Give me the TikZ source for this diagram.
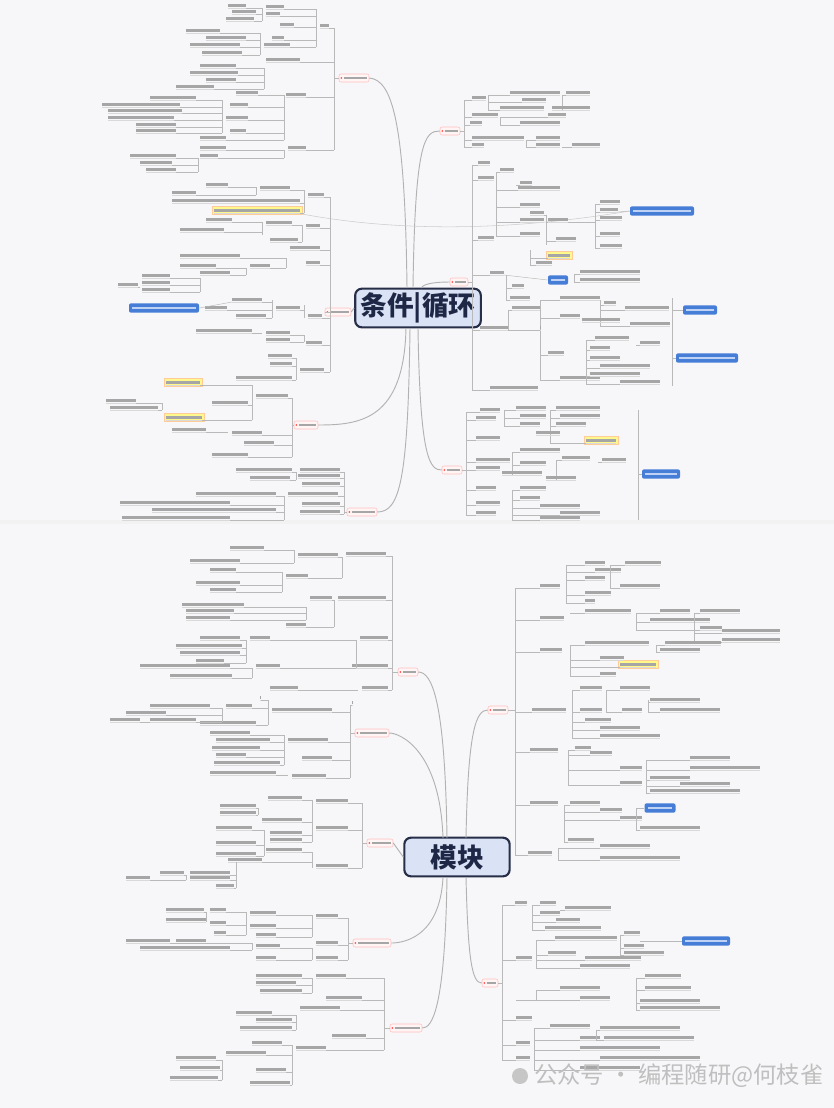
\documentclass[tikz,border=0pt]{standalone}
\usepackage{fontspec}
\newfontfamily\cjk{Noto Sans CJK SC}
\usepackage{tikz}
\definecolor{zentrumrand}{RGB}{38,46,72}
\definecolor{zentrumfill}{RGB}{218,226,245}
\definecolor{zentrumtext}{RGB}{30,40,70}
\definecolor{blauknoten}{RGB}{70,125,215}
\definecolor{blauschrift}{RGB}{190,210,245}
\definecolor{hintergrund}{RGB}{247,247,249}

\tikzset{
  ast/.style={draw=gray!55, line width=0.35pt},
  haupt/.style={draw=gray!60, line width=0.7pt},
  bezug/.style={draw=gray!40, line width=0.4pt},
  blatt/.style={fill=gray!70},
  unter/.style={draw=gray!30, line width=0.3pt},
  zentrum/.style={draw=zentrumrand, line width=1.6pt, rounded corners=5pt, fill=zentrumfill,
    text=zentrumtext, inner xsep=4pt, inner ysep=2pt, minimum height=29pt,
    font=\cjk\bfseries\fontsize{20}{24}\selectfont},
  themabox/.style={draw=red!25, fill=red!4, rounded corners=1.5pt, minimum height=6pt, inner sep=0pt},
  blaubox/.style={fill=blauknoten, rounded corners=1.5pt, minimum height=7pt, inner sep=0pt},
  gelb/.style={fill=yellow!45, draw=orange!40, line width=0.3pt},
  wasserzeichen/.style={text=gray!50, font=\cjk\fontsize{17.5}{20}\selectfont, inner sep=0pt}
}

% Zweig nach links: Stamm x, y oben, y unten, Liste x/y/breite
\newcommand{\zweigL}[4]{%
  \draw[ast] (#1,#2) -- (#1,#3);
  \foreach \lx/\ly/\lw in {#4}{%
    \draw[ast] (#1,\ly) -- (\lx+\lw,\ly);
    \fill[blatt] (\lx,\ly-1) rectangle ++(\lw,-3.4);
    \draw[unter] (\lx,\ly) -- ++(\lw,0);
  }}
% Zweig nach rechts
\newcommand{\zweigR}[4]{%
  \draw[ast] (#1,#2) -- (#1,#3);
  \foreach \lx/\ly/\lw in {#4}{%
    \draw[ast] (#1,\ly) -- (\lx,\ly);
    \fill[blatt] (\lx,\ly-1) rectangle ++(\lw,-3.4);
    \draw[unter] (\lx,\ly) -- ++(\lw,0);
  }}
\newcommand{\themaknoten}[4]{%
  \node[themabox, minimum width=#4*0.75pt] (#1) at (#2,#3) {};
  \fill[red!65] ([xshift=2pt]#1.west) circle (0.8pt);
  \fill[gray!70] ([xshift=3.6pt,yshift=-0.9pt]#1.west) rectangle ([xshift=-1.8pt,yshift=0.9pt]#1.east);}
\newcommand{\blaufeld}[4]{%
  \node[blaubox, minimum width=#4*0.75pt] (#1) at (#2,#3) {};
  \fill[blauschrift] ([xshift=2.5pt,yshift=-0.8pt]#1.west) rectangle ([xshift=-2.5pt,yshift=0.8pt]#1.east);}
\newcommand{\gelbfeld}[3]{\filldraw[gelb] (#1-2,#2+1.5) rectangle (#1+#3+2,#2-6.5);}

\begin{document}
\begin{tikzpicture}[x=0.75pt, y=-0.75pt, font=\footnotesize]
  % Hintergrund
  \useasboundingbox (0,0) rectangle (834,1108);
  \fill[hintergrund] (0,0) rectangle (834,1108);
  \fill[gray!10] (0,520) rectangle (834,524);

  % Hauptknoten
  \node[zentrum] (ta) at (418,308) {条件|循环};
  \node[zentrum, minimum width=79pt] (tb) at (457,857) {模块};

  % Themen oben
  \themaknoten{t1}{354}{78}{30}
  \themaknoten{t2}{338}{312}{26}
  \themaknoten{t3}{306}{425}{24}
  \themaknoten{t4}{362}{512}{30}
  \themaknoten{t5}{450}{131}{20}
  \themaknoten{t6}{459}{282}{18}
  \themaknoten{t7}{452}{470}{20}
  % Themen unten
  \themaknoten{b1}{408}{672}{20}
  \themaknoten{b2}{372}{733}{34}
  \themaknoten{b3}{380}{843}{26}
  \themaknoten{b4}{372}{943}{38}
  \themaknoten{b5}{406}{1028}{32}
  \themaknoten{b6}{498}{710}{20}
  \themaknoten{b7}{490}{983}{16}

  % blaue Knoten
  \blaufeld{tbl1}{662}{211}{64}
  \blaufeld{tbl2}{164}{308}{70}
  \blaufeld{tbl3}{700}{310}{34}
  \blaufeld{tbl4}{707}{358}{62}
  \blaufeld{tbl5}{558}{280}{20}
  \blaufeld{tbl6}{661}{474}{38}
  \blaufeld{bb1}{660}{808}{31}
  \blaufeld{bb2}{706}{941}{48}

  % gelbe Markierungen
  \gelbfeld{214}{213}{86}
  \gelbfeld{166}{385}{34}
  \gelbfeld{166}{420}{36}
  \gelbfeld{548}{258}{22}
  \gelbfeld{586}{443}{30}
  \gelbfeld{620}{667}{36}

  % Hauptaeste oben
  \draw[haupt] (407,288) .. controls (405,120) and (392,80) .. (t1.east);
  \draw[haupt] (ta.west) -- (t2.east);
  \draw[haupt] (406,328) .. controls (404,420) and (360,425) .. (t3.east);
  \draw[haupt] (410,328) .. controls (408,480) and (400,512) .. (t4.east);
  \draw[haupt] (413,288) .. controls (415,140) and (425,131) .. (t5.west);
  \draw[haupt] (421,288) .. controls (424,283) and (438,282) .. (t6.west);
  \draw[haupt] (418,328) .. controls (420,460) and (430,470) .. (t7.west);
  % Hauptaeste unten
  \draw[haupt] (447,838) .. controls (445,700) and (432,672) .. (b1.east);
  \draw[haupt] (443,838) .. controls (440,750) and (400,733) .. (b2.east);
  \draw[haupt] (tb.west) -- (b3.east);
  \draw[haupt] (443,877) .. controls (440,940) and (400,943) .. (b4.east);
  \draw[haupt] (447,877) .. controls (445,1010) and (432,1028) .. (b5.east);
  \draw[haupt] (466,838) .. controls (468,730) and (476,710) .. (b6.west);
  \draw[haupt] (466,877) .. controls (468,960) and (472,983) .. (b7.west);
  % Beziehung
  \draw[bezug] (302,214) .. controls (420,236) and (540,226) .. (tbl1.west);

  % T1
  \draw[ast] (t1.west) -- (334,78);
  \zweigL{334}{28}{150}{320/28/9, 266/62/34, 286/97/20, 288/150/18}
  \zweigL{316}{9}{47}{266/9/18, 266/16/14, 280/27/14, 272/40/12, 264/47/26}
  \zweigL{262}{8}{21}{228/8/18, 232/14/24, 226/21/28}
  \zweigL{260}{33}{55}{186/33/34, 206/40/40, 190/47/50, 202/55/40}
  \zweigL{264}{68}{89}{200/68/36, 190/75/48, 206/82/30, 176/89/38}
  \zweigL{284}{95}{140}{236/95/22, 230/107/18, 226/120/22, 230/133/16, 200/140/26}
  \zweigL{222}{100}{133}{150/100/46, 102/107/78, 108/113/74, 108/120/66, 136/127/40, 136/133/40}
  \zweigL{284}{150}{158}{200/150/26, 200/158/18}
  \zweigL{198}{158}{172}{130/158/46, 140/165/32, 146/172/30}

  % T2
  \draw[ast] (t2.west) -- (330,312);
  \zweigL{330}{197}{372}{308/197/16, 306/228/14, 290/250/30, 306/265/14, 308/318/14, 306/345/16, 300/372/24}
  \zweigL{304}{190}{213}{260/190/30, 172/203/128, 214/213/86}
  \zweigL{256}{187}{195}{206/187/22, 172/195/24}
  \zweigL{302}{225}{242}{266/225/26, 270/242/28}
  \zweigL{262}{222}{235}{206/222/26, 180/232/44}
  \zweigL{286}{258}{268}{180/258/60, 250/268/20}
  \zweigL{246}{268}{275}{180/268/36, 200/275/30}
  \zweigL{304}{305}{318}{276/310/24}
  \zweigL{272}{300}{318}{232/302/30, 205/310/22, 236/318/30}
  \zweigL{200}{278}{292}{142/278/28, 142/285/28, 142/292/28}
  \zweigL{140}{287}{287}{118/287/20}
  \draw[ast] (tbl2.east) -- (232,302);
  \zweigL{304}{335}{342}{266/335/24, 266/342/24}
  \zweigL{262}{333}{333}{196/333/56}
  \zweigL{296}{358}{380}{268/358/24, 270/366/22, 236/380/56}

  % T3
  \draw[ast] (t3.west) -- (292,425);
  \zweigL{292}{398}{457}{256/398/32, 232/435/30, 244/445/30, 212/457/36}
  \zweigL{252}{385}{420}{166/385/34, 212/405/36, 166/420/36}
  \zweigL{162}{403}{410}{106/403/30, 110/410/48}
  \zweigL{228}{432}{432}{172/432/34}

  % T4
  \draw[ast] (t4.west) -- (344,512);
  \zweigL{344}{472}{514}{300/472/40, 298/478/42, 302/486/38, 288/496/50, 302/506/38, 300/514/40}
  \zweigL{284}{496}{520}{196/496/80, 120/505/110, 152/512/124, 122/520/108}
  \zweigL{296}{472}{480}{236/472/56, 250/480/40}

  % T5
  \draw[ast] (t5.east) -- (464,131);
  \zweigR{464}{100}{147}{472/100/14, 472/117/26, 470/125/12, 472/140/52, 472/147/12}
  \zweigR{488}{95}{110}{510/95/50, 522/102/24, 500/110/44}
  \zweigR{562}{95}{110}{566/95/24, 552/110/38}
  \zweigR{500}{117}{125}{548/117/18, 520/125/40}
  \zweigR{526}{140}{147}{536/140/24, 536/147/24}
  \zweigR{562}{147}{147}{572/147/28}

  % T6
  \draw[ast] (t6.east) -- (472,282);
  \zweigR{472}{165}{390}{478/165/12, 478/180/16, 478/240/16, 490/275/14, 480/330/28, 490/390/48}
  \zweigR{496}{172}{236}{500/172/14, 518/190/42, 520/207/20, 520/222/24, 520/236/20}
  \zweigR{516}{185}{185}{520/185/12}
  \zweigR{546}{215}{245}{548/222/20, 556/241/20, 530/215/14}
  \zweigR{595}{204}{248}{600/204/20, 600/212/18, 600/220/22, 600/236/20, 600/248/22}
  \draw[ast] (568,222) -- (595,222);
  \draw[ast] (618,212) -- (tbl1.west);
  \zweigR{530}{250}{265}{548/258/22, 536/265/16}
  \zweigR{506}{275}{300}{512/288/12, 510/300/20}
  \draw[ast] (504,275) -- (tbl5.west);
  \zweigR{574}{274}{282}{580/274/60, 580/282/60}
  \zweigR{540}{300}{380}{560/300/40, 560/318/20, 548/355/16, 560/380/40}
  \zweigR{508}{310}{330}{512/310/28, 540/330/0.1}
  \zweigR{600}{300}{326}{604/305/12, 625/310/44, 582/322/38, 630/326/40}
  \draw[ast] (672,298) -- (672,386);
  \draw[ast] (672,310) -- (tbl3.west);
  \draw[ast] (672,358) -- (tbl4.west);
  \zweigR{586}{340}{384}{595/340/34, 590/350/20, 590/360/30, 600/368/50, 590/376/50, 620/384/40}
  \zweigR{636}{345}{345}{640/345/20}

  % T7
  \draw[ast] (t7.east) -- (466,470);
  \zweigR{466}{412}{515}{480/412/20, 476/420/20, 476/440/24, 476/462/34, 476/470/24, 476/490/20, 476/505/24, 476/515/20}
  \zweigR{504}{410}{426}{516/410/30, 520/418/26, 520/426/20}
  \zweigR{550}{410}{443}{556/410/44, 560/418/40, 556/426/30, 536/435/24, 586/443/30}
  \zweigR{512}{452}{475}{520/452/40, 520/465/26, 502/475/40}
  \zweigR{556}{460}{480}{562/460/28, 546/480/30}
  \zweigR{598}{462}{462}{602/462/24}
  \zweigR{512}{490}{520}{520/490/26, 520/500/20, 540/508/40, 560/515/40, 540/520/40}
  \draw[ast] (638,410) -- (638,520);
  \draw[ast] (638,474) -- (tbl6.west);

  % B1
  \draw[ast] (b1.west) -- (392,672);
  \zweigL{392}{556}{690}{346/556/40, 338/600/48, 360/640/28, 352/668/36, 362/690/26}
  \zweigL{342}{557}{578}{298/557/40, 286/578/22}
  \zweigL{294}{550}{563}{230/550/34, 190/563/50}
  \zweigL{282}{572}{592}{210/572/26, 196/585/44, 210/592/26}
  \zweigL{334}{600}{627}{310/600/22, 286/627/20}
  \zweigL{306}{607}{620}{182/607/62, 186/613/48, 186/620/44}
  \zweigL{356}{640}{668}{250/640/20, 256/668/24}
  \zweigL{246}{640}{663}{200/640/40, 176/648/66, 180/655/60, 196/663/28}
  \zweigL{252}{668}{678}{140/668/90, 170/678/62}
  \zweigL{358}{690}{690}{270/690/28}

  % B2
  \draw[ast] (b2.west) -- (350,733);
  \zweigL{350}{705}{778}{352/705/0.1, 272/712/60, 288/742/40, 302/760/30, 292/778/34}
  \zweigL{268}{700}{725}{260/700/0.1, 226/708/26, 200/725/56}
  \zweigL{222}{708}{722}{150/708/60, 126/715/40, 110/722/30, 150/722/46}
  \zweigL{284}{735}{765}{210/735/40, 216/742/54, 212/750/48, 216/757/30, 214/765/66}
  \zweigL{288}{775}{775}{210/775/66}

  % B3
  \draw[ast] (b3.west) -- (362,843);
  \zweigL{362}{803}{868}{316/803/32, 316/830/32, 316/868/32}
  \zweigL{312}{800}{842}{268/800/34, 262/822/40, 270/835/32, 270/842/32}
  \zweigL{258}{808}{815}{220/808/36, 220/815/36}
  \zweigL{264}{830}{856}{216/830/36, 216/845/40, 216/856/40}
  \zweigL{312}{852}{868}{266/852/36, 228/862/34}
  \zweigL{236}{875}{888}{190/875/40, 190/880/40, 216/888/18}
  \zweigL{186}{875}{880}{160/875/24, 126/880/24}
  \draw[ast] (236,862) -- (236,875);

  % B4
  \draw[ast] (b4.west) -- (348,943);
  \zweigL{348}{918}{960}{316/918/22, 316/945/22, 316/960/22}
  \zweigL{312}{915}{937}{250/915/26, 250/928/26, 256/937/20}
  \zweigL{246}{912}{935}{210/912/16, 210/925/16, 214/935/12}
  \zweigL{206}{912}{922}{166/912/38, 166/922/40}
  \zweigL{312}{948}{960}{256/948/24, 256/960/20}
  \zweigL{252}{943}{950}{176/943/30, 126/943/44, 140/950/90}

  % B5
  \draw[ast] (b5.west) -- (384,1028);
  \zweigL{384}{978}{1050}{316/978/30, 326/1000/36, 300/1010/40, 332/1038/34, 296/1050/30}
  \zweigL{312}{978}{993}{256/978/46, 256/985/40, 260/993/42}
  \zweigL{296}{1015}{1030}{236/1015/36, 256/1022/36, 240/1030/52}
  \zweigL{292}{1045}{1085}{252/1045/30, 226/1055/40, 256/1072/30, 250/1085/40}
  \zweigL{222}{1060}{1080}{176/1060/40, 180/1070/40, 170/1080/48}

  % B6
  \draw[ast] (b6.east) -- (515,710);
  \zweigR{515}{588}{855}{540/588/20, 540/620/24, 540/652/22, 532/712/34, 530/752/28, 530/805/28, 528/855/24}
  \zweigR{566}{565}{603}{585/565/20, 595/572/26, 585/580/20, 585/595/26, 585/603/10}
  \zweigR{610}{565}{588}{625/565/36, 620/588/40}
  \zweigR{570}{613}{613}{585/613/46}
  \zweigR{636}{613}{630}{660/613/30, 650/622/60, 700/630/22}
  \zweigR{694}{613}{642}{700/613/40, 722/633/58, 722/642/58}
  \zweigR{570}{645}{676}{585/645/64, 600/660/24, 620/667/36, 600/676/16}
  \zweigR{656}{645}{652}{665/645/56, 660/652/40}
  \zweigR{572}{690}{738}{580/690/22, 580/712/22, 585/722/26, 600/730/40, 600/738/60}
  \zweigR{606}{690}{712}{620/690/30, 622/712/20}
  \zweigR{648}{700}{712}{650/702/50, 660/712/60}
  \zweigR{568}{750}{785}{575/750/16, 590/755/22, 620/770/22, 620/785/22}
  \zweigR{646}{760}{793}{690/760/40, 690/770/70, 650/780/40, 680/786/50, 650/793/90}
  \zweigR{564}{805}{842}{570/805/30, 600/812/22, 620/820/22, 568/842/26}
  \zweigR{636}{808}{830}{640/830/60}
  \draw[ast] (636,808) -- (bb1.west);
  \zweigR{558}{848}{860}{600/848/50, 600/860/80}

  % B7
  \draw[ast] (b7.east) -- (502,983);
  \zweigR{502}{905}{1060}{515/905/12, 516/960/16, 516/1020/16, 516/1045/14, 516/1060/14}
  \zweigR{532}{905}{930}{540/905/16, 540/915/20, 556/922/24, 545/930/56}
  \zweigR{560}{910}{910}{565/910/46}
  \zweigR{536}{940}{968}{555/940/62, 548/955/28, 585/960/56, 580/968/50}
  \zweigR{620}{935}{955}{624/935/16, 624/948/20, 624/955/40}
  \draw[ast] (640,941) -- (bb2.west);
  \zweigR{536}{990}{1000}{560/990/40, 580/1000/30}
  \zweigR{636}{978}{1010}{645/978/36, 645/990/46, 640/1003/60, 640/1010/80}
  \zweigR{534}{1028}{1070}{550/1028/40, 580/1040/20, 580/1050/80, 600/1060/100, 580/1070/60}
  \zweigR{596}{1030}{1040}{600/1030/80, 604/1040/90}
  \draw[ast] (516,1000) -- (536,1000);

  % Wasserzeichen
  \node[circle, fill=gray!45, minimum size=12pt, inner sep=0pt] (wzicon) at (520,1076) {};
  \node[wasserzeichen, anchor=west] (wz) at (534,1076) {公众号 · 编程随研@何枝雀};
\end{tikzpicture}
\end{document}
